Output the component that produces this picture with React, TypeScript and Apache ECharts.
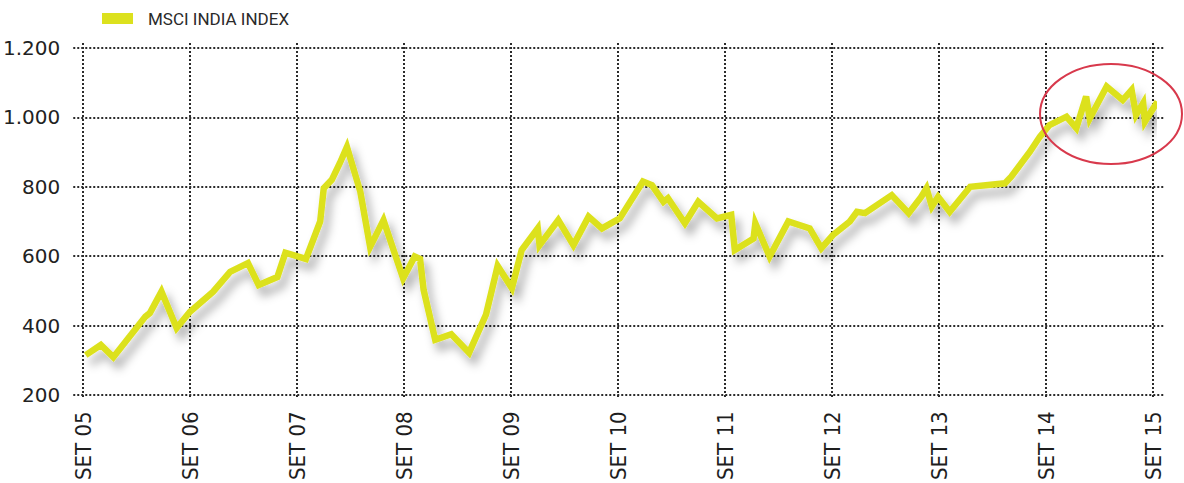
import React, { useEffect, useRef } from "react";
import * as echarts from "echarts";

// months elapsed since September 2005
const months = [
  0.3, 2, 3.4, 7, 7.5, 8.8, 10.5, 12, 14.6, 16.5, 18.5, 19.7, 21.8, 22.7, 25,
  26.6, 27, 27.9, 28.8, 29.6, 31.1, 32.2, 33.7, 35.9, 37.2, 37.8, 38.2, 39.5,
  41.3, 43.3, 45.2, 46.5, 48.1, 49.2, 51, 51.2, 53.3, 55, 56.7, 58.2, 60.2,
  62.8, 63.8, 65.1, 65.6, 67.5, 69, 71.1, 72.7, 73.1, 75.2, 75.4, 77, 79.1,
  81.5, 82.8, 84.1, 86, 86.8, 87.7, 90.7, 92.6, 94, 94.6, 95.2, 95.9, 97.2,
  99.5, 103.4, 104.1, 106.2, 107.3, 108.4, 110.3, 111.4, 112.5, 112.9, 114.8,
  116.6, 117.6, 118.1, 118.9, 119.1, 119.8, 120.5,
];
const values = [
  315, 344, 309, 426, 436, 498, 393, 440, 498, 555, 580, 517, 540, 610, 592,
  700, 796, 820, 868, 915, 786, 627, 704, 536, 599, 592, 503, 359, 375, 322,
  432, 572, 508, 618, 680, 632, 704, 632, 714, 680, 709, 815, 805, 757, 767,
  695, 757, 709, 719, 618, 651, 695, 599, 700, 680, 623, 661, 700, 728, 724,
  776, 724, 771, 796, 743, 771, 728, 800, 810, 829, 901, 944, 978, 1002, 969,
  1060, 997, 1089, 1050, 1079, 1007, 1041, 988, 1017, 1045,
];
const seriesName = "MSCI INDIA INDEX";
const xTickLabels = [
  "SET 05", "SET 06", "SET 07", "SET 08", "SET 09", "SET 10",
  "SET 11", "SET 12", "SET 13", "SET 14", "SET 15",
];
const yTicks = [200, 400, 600, 800, 1000, 1200];
const yTickLabels = ["200", "400", "600", "800", "1.000", "1.200"];

const dotted = { type: [2, 2] as any, width: 2, color: "#2b2b2b" };

export default function App() {
  const ref = useRef<HTMLDivElement>(null);
  useEffect(() => {
    if (!ref.current) return;
    const chart = echarts.init(ref.current, undefined, { renderer: "svg" });
    chart.setOption({
      animation: false,
      backgroundColor: "#ffffff",
      legend: {
        left: 102,
        top: 10,
        padding: 0,
        icon: "rect",
        itemWidth: 31,
        itemHeight: 11,
        data: [seriesName],
        textStyle: {
          fontFamily: "Roboto, sans-serif",
          fontSize: 17,
          color: "#2a2a2a",
          padding: [0, 0, 0, 10],
        },
      },
      grid: [
        { left: 73, right: 19, top: 48, bottom: 88, containLabel: false },
        { left: 83, right: 31, top: 43, bottom: 83, containLabel: false },
        { left: 83, right: 31, top: 48, bottom: 88, containLabel: false },
      ],
      xAxis: [
        { gridIndex: 0, type: "value", min: 0, max: 1, show: false },
        {
          gridIndex: 1,
          type: "value",
          min: 0,
          max: 120,
          interval: 12,
          axisLine: { show: false },
          axisTick: { show: false },
          splitLine: { show: true, lineStyle: dotted },
          axisLabel: {
            rotate: 90,
            margin: 14,
            fontFamily:
              "'Liberation Sans Narrow', 'DejaVu Sans Condensed', Roboto, sans-serif",
            fontSize: 22,
            color: "#1e1e1e",
            formatter: (v: number) => xTickLabels[Math.round(v / 12)] ?? "",
          },
        },
        { gridIndex: 2, type: "value", min: 0, max: 120, show: false },
      ],
      yAxis: [
        {
          gridIndex: 0,
          type: "value",
          min: 200,
          max: 1200,
          interval: 200,
          axisLine: { show: false },
          axisTick: { show: false },
          splitLine: { show: true, lineStyle: dotted },
          axisLabel: {
            margin: 13,
            fontFamily: "'DejaVu Sans', sans-serif",
            fontSize: 20,
            color: "#222",
            formatter: (v: number) => yTickLabels[yTicks.indexOf(v)] ?? "",
          },
        },
        { gridIndex: 1, type: "value", min: 0, max: 1, show: false },
        { gridIndex: 2, type: "value", min: 200, max: 1200, show: false },
      ],
      series: [
        {
          name: seriesName,
          type: "line",
          xAxisIndex: 2,
          yAxisIndex: 2,
          data: months.map((m, i) => [m, values[i]]),
          showSymbol: false,
          symbol: "none",
          color: "#dce11e",
          lineStyle: {
            width: 6.5,
            color: "#dce11e",
            join: "miter",
            shadowColor: "rgba(0,0,0,0.32)",
            shadowBlur: 10,
            shadowOffsetX: 5,
            shadowOffsetY: 8,
          },
          z: 5,
        },
      ],
      graphic: [
        {
          type: "ellipse",
          shape: { cx: 1111, cy: 114, rx: 71, ry: 50 },
          style: { fill: "none", stroke: "#d8394c", lineWidth: 2 },
          z: 10,
        },
      ],
    });
    return () => chart.dispose();
  }, []);
  return <div ref={ref} style={{ width: 1184, height: 483, position: "absolute", left: 0, top: 0 }} />;
}
